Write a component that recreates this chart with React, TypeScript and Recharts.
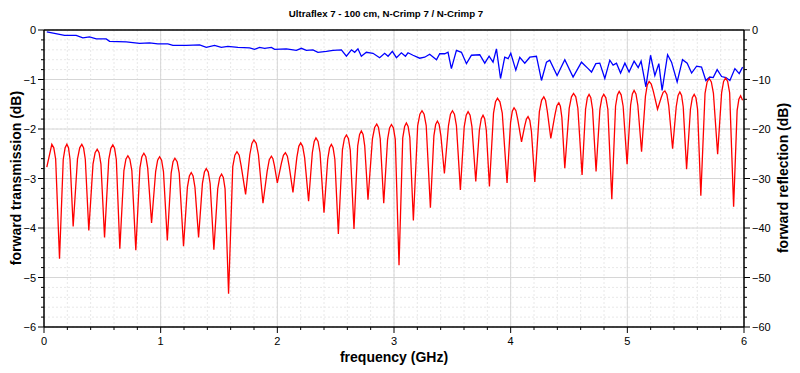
import React from 'react';
import { LineChart, Line, XAxis, YAxis, CartesianGrid, ReferenceLine } from 'recharts';

const FONT = '"Liberation Sans", Arial, Helvetica, sans-serif';

const chartTitle = 'Ultraflex 7 - 100 cm, N-Crimp 7 / N-Crimp 7';
const xTitle = 'frequency (GHz)';
const leftTitle = 'forward transmission (dB)';
const rightTitle = 'forward reflection (dB)';

// major tick values (labelled)
const xMajor = [0, 1, 2, 3, 4, 5, 6];
const leftMajor = [0, -1, -2, -3, -4, -5, -6];
const rightMajor = [0, -10, -20, -30, -40, -50, -60];
// minor tick values (every 0.2 GHz / 0.2 dB / 2 dB)
const xTicks = Array.from({ length: 31 }, (_, i) => Math.round(i * 2) / 10);
const leftTicks = Array.from({ length: 31 }, (_, i) => -Math.round(i * 2) / 10);
const rightTicks = Array.from({ length: 31 }, (_, i) => -i * 2);

// forward transmission (blue, left axis)
const transFreq = [
  0.024, 0.133, 0.176, 0.276, 0.333, 0.390, 0.448, 0.533, 0.562, 0.705,
  0.819, 0.905, 0.976, 1.062, 1.105, 1.220, 1.334, 1.391, 1.462, 1.520,
  1.576, 1.662, 1.762, 1.805, 1.848, 1.891, 1.949, 1.977, 2.077, 2.163,
  2.206, 2.249, 2.305, 2.348, 2.420, 2.477, 2.549, 2.592, 2.635, 2.663,
  2.691, 2.720, 2.763, 2.820, 2.877, 2.920, 2.949, 2.986, 3.021, 3.063,
  3.098, 3.120, 3.163, 3.220, 3.263, 3.306, 3.364, 3.392, 3.435, 3.463,
  3.492, 3.535, 3.578, 3.621, 3.664, 3.735, 3.778, 3.815, 3.849, 3.878,
  3.913, 3.949, 3.978, 4.001, 4.044, 4.078, 4.121, 4.164, 4.221, 4.264,
  4.307, 4.335, 4.398, 4.464, 4.535, 4.607, 4.664, 4.693, 4.730, 4.764,
  4.807, 4.850, 4.878, 4.907, 4.942, 4.979, 5.015, 5.058, 5.093, 5.118,
  5.159, 5.199, 5.236, 5.270, 5.298, 5.345, 5.379, 5.427, 5.473, 5.513,
  5.551, 5.594, 5.636, 5.673, 5.707, 5.736, 5.770, 5.808, 5.845, 5.879,
  5.922, 5.959, 5.988,
];
const transDb = [
  -0.04, -0.09, -0.11, -0.11, -0.16, -0.14, -0.18, -0.18, -0.23, -0.24,
  -0.27, -0.26, -0.28, -0.28, -0.31, -0.31, -0.30, -0.35, -0.31, -0.35,
  -0.33, -0.35, -0.36, -0.39, -0.35, -0.37, -0.35, -0.39, -0.38, -0.41,
  -0.37, -0.41, -0.40, -0.45, -0.43, -0.41, -0.40, -0.53, -0.40, -0.45,
  -0.38, -0.53, -0.45, -0.47, -0.56, -0.47, -0.53, -0.43, -0.56, -0.46,
  -0.53, -0.46, -0.51, -0.57, -0.55, -0.49, -0.60, -0.48, -0.48, -0.45,
  -0.78, -0.41, -0.45, -0.68, -0.51, -0.50, -0.67, -0.53, -0.65, -0.38,
  -0.98, -0.55, -0.58, -0.47, -0.81, -0.55, -0.67, -0.55, -0.53, -1.02,
  -0.65, -0.61, -0.92, -0.60, -0.95, -0.65, -0.78, -0.85, -0.68, -0.67,
  -0.98, -0.61, -0.71, -0.67, -0.87, -0.67, -0.85, -0.63, -0.76, -0.63,
  -1.15, -0.51, -0.92, -0.68, -1.22, -0.50, -0.65, -1.05, -0.60, -0.67,
  -0.87, -0.73, -0.75, -1.02, -0.95, -0.96, -0.80, -0.94, -0.96, -1.02,
  -0.78, -0.88, -0.75,
];

// forward reflection (red, right axis); per ripple: shoulder, near-top, peak, near-top, shoulder, dip
const reflFreq = [
  0.024, 0.067, 0.084, 0.100, 0.133,
  0.165, 0.181, 0.196, 0.210, 0.223, 0.250,
  0.287, 0.306, 0.324, 0.339, 0.354, 0.384,
  0.420, 0.438, 0.456, 0.472, 0.488, 0.519,
  0.555, 0.573, 0.590, 0.605, 0.620, 0.650,
  0.685, 0.702, 0.719, 0.736, 0.753, 0.787,
  0.822, 0.839, 0.856, 0.873, 0.889, 0.922,
  0.957, 0.974, 0.991, 1.008, 1.024, 1.057,
  1.090, 1.106, 1.122, 1.141, 1.159, 1.196,
  1.229, 1.246, 1.262, 1.278, 1.294, 1.325,
  1.358, 1.375, 1.391, 1.408, 1.424, 1.456,
  1.489, 1.506, 1.522, 1.537, 1.552, 1.582,
  1.618, 1.636, 1.654, 1.673, 1.691, 1.728,
  1.764, 1.782, 1.799, 1.819, 1.838, 1.877,
  1.913, 1.931, 1.949, 1.962, 1.975, 2.000,
  2.035, 2.052, 2.069, 2.086, 2.102, 2.134,
  2.167, 2.184, 2.200, 2.217, 2.234, 2.268,
  2.300, 2.316, 2.331, 2.349, 2.366, 2.400,
  2.432, 2.448, 2.463, 2.478, 2.493, 2.523,
  2.558, 2.575, 2.592, 2.609, 2.625, 2.657,
  2.689, 2.705, 2.720, 2.735, 2.749, 2.777,
  2.815, 2.834, 2.852, 2.867, 2.882, 2.912,
  2.945, 2.962, 2.978, 2.995, 3.011, 3.043,
  3.075, 3.091, 3.106, 3.121, 3.136, 3.166,
  3.203, 3.222, 3.240, 3.258, 3.276, 3.312,
  3.342, 3.357, 3.372, 3.387, 3.402, 3.432,
  3.467, 3.484, 3.501, 3.518, 3.535, 3.569,
  3.602, 3.619, 3.635, 3.652, 3.668, 3.701,
  3.732, 3.748, 3.763, 3.777, 3.791, 3.818,
  3.853, 3.870, 3.887, 3.908, 3.928, 3.969,
  3.999, 4.014, 4.029, 4.045, 4.061, 4.093,
  4.121, 4.135, 4.149, 4.164, 4.178, 4.207,
  4.246, 4.265, 4.284, 4.299, 4.314, 4.344,
  4.379, 4.396, 4.413, 4.426, 4.439, 4.464,
  4.502, 4.521, 4.539, 4.558, 4.576, 4.612,
  4.642, 4.657, 4.672, 4.687, 4.702, 4.732,
  4.765, 4.782, 4.798, 4.816, 4.833, 4.867,
  4.899, 4.915, 4.930, 4.947, 4.964, 4.998,
  5.028, 5.043, 5.058, 5.074, 5.090, 5.122,
  5.155, 5.171, 5.187, 5.205, 5.223, 5.259,
  5.291, 5.307, 5.322, 5.339, 5.355, 5.388,
  5.419, 5.435, 5.450, 5.465, 5.479, 5.508,
  5.541, 5.557, 5.573, 5.588, 5.602, 5.630,
  5.666, 5.684, 5.702, 5.720, 5.738, 5.774,
  5.808, 5.825, 5.842, 5.860, 5.877, 5.911,
  5.941, 5.956, 5.971, 5.988,
];
const reflDb = [
  -27.7, -23.1, -23.8, -26.1, -46.2,
  -26.1, -23.8, -23.1, -23.8, -26.1, -39.7,
  -26.1, -23.8, -23.1, -23.8, -26.1, -40.5,
  -27.1, -24.8, -24.1, -24.8, -27.1, -41.9,
  -26.2, -23.9, -23.2, -23.9, -26.2, -44.2,
  -28.4, -26.1, -25.4, -26.1, -28.4, -44.5,
  -27.9, -25.6, -24.9, -25.6, -27.9, -39.0,
  -28.6, -26.3, -25.6, -26.3, -28.6, -42.5,
  -28.9, -26.6, -25.9, -26.6, -28.9, -43.7,
  -31.8, -29.5, -28.8, -29.5, -31.8, -41.9,
  -31.0, -28.7, -28.0, -28.7, -31.0, -44.4,
  -32.1, -29.8, -29.1, -29.8, -32.1, -53.3,
  -27.6, -25.3, -24.6, -25.3, -27.6, -33.2,
  -25.2, -22.9, -22.2, -22.9, -25.2, -35.0,
  -28.5, -26.2, -25.5, -26.0, -27.4, -30.9,
  -26.9, -25.3, -24.8, -25.5, -27.6, -32.8,
  -25.8, -23.5, -22.8, -23.5, -25.8, -34.6,
  -24.8, -22.5, -21.8, -22.5, -24.8, -36.9,
  -26.1, -23.8, -23.1, -23.8, -26.1, -41.2,
  -24.2, -21.9, -21.2, -21.9, -24.2, -40.2,
  -23.4, -21.1, -20.4, -21.1, -23.4, -34.3,
  -22.0, -19.7, -19.0, -19.7, -22.0, -35.0,
  -22.1, -19.8, -19.1, -19.8, -22.1, -47.5,
  -21.8, -19.5, -18.8, -19.5, -21.8, -38.5,
  -19.3, -17.0, -16.3, -17.0, -19.3, -35.9,
  -21.4, -19.1, -18.4, -19.1, -21.4, -29.0,
  -19.3, -17.0, -16.3, -17.0, -19.3, -32.3,
  -19.5, -17.2, -16.5, -17.2, -19.5, -30.6,
  -20.2, -17.9, -17.2, -17.9, -20.2, -31.6,
  -16.8, -14.5, -13.8, -14.5, -16.8, -30.9,
  -18.7, -16.4, -15.7, -16.3, -18.1, -22.6,
  -19.3, -18.0, -17.5, -18.2, -20.5, -30.7,
  -16.5, -14.2, -13.5, -14.2, -16.4, -21.9,
  -17.2, -15.3, -14.7, -15.4, -17.7, -27.9,
  -15.8, -13.5, -12.8, -13.5, -15.8, -29.3,
  -16.0, -13.7, -13.0, -13.7, -16.0, -28.6,
  -16.0, -13.7, -13.0, -13.7, -16.0, -34.2,
  -15.4, -13.1, -12.4, -13.1, -15.4, -27.1,
  -15.2, -12.9, -12.2, -12.9, -15.2, -24.6,
  -13.4, -11.1, -10.4, -10.9, -12.4, -16.0,
  -13.6, -12.6, -12.3, -13.0, -15.3, -24.0,
  -15.5, -13.2, -12.5, -13.2, -15.5, -28.1,
  -16.0, -13.7, -13.0, -13.7, -16.0, -33.5,
  -12.8, -10.5, -9.8, -10.5, -12.8, -25.1,
  -12.7, -10.4, -9.7, -10.4, -12.7, -35.7,
  -16.3, -14.0, -13.3, -14.2,
];

const transData = transFreq.map((f, i) => ({ f, v: transDb[i] }));
const reflData = reflFreq.map((f, i) => ({ f, v: reflDb[i] }));

const isMajor = (v: number, list: number[]) => list.some((m) => Math.abs(m - v) < 1e-6);
const fmt = (v: number) => (v < 0 ? '\u2212' + Math.abs(Math.round(v * 10) / 10) : String(Math.round(v * 10) / 10));

const BottomTick = (props: any) => {
  const { x, y, payload } = props;
  const v = payload.value;
  const major = isMajor(v, xMajor);
  return (
    <g>
      <line x1={x} x2={x} y1={y} y2={y + (major ? 6 : 3)} stroke="#000" strokeWidth={1} />
      {major && (
        <text x={x} y={y + 18} textAnchor="middle" fontSize={11} fontFamily={FONT} fill="#000">
          {fmt(v)}
        </text>
      )}
    </g>
  );
};

const LeftTick = (props: any) => {
  const { x, y, payload } = props;
  const v = payload.value;
  const major = isMajor(v, leftMajor);
  return (
    <g>
      <line x1={x} x2={x - (major ? 6 : 3)} y1={y} y2={y} stroke="#000" strokeWidth={1} />
      {major && (
        <text x={x - 8} y={y + 4} textAnchor="end" fontSize={11} fontFamily={FONT} fill="#000">
          {fmt(v)}
        </text>
      )}
    </g>
  );
};

const RightTick = (props: any) => {
  const { x, y, payload } = props;
  const v = payload.value;
  const major = isMajor(v, rightMajor);
  return (
    <g>
      <line x1={x} x2={x + (major ? 6 : 3)} y1={y} y2={y} stroke="#000" strokeWidth={1} />
      {major && (
        <text x={x + 8} y={y + 4} textAnchor="start" fontSize={11} fontFamily={FONT} fill="#000">
          {fmt(v)}
        </text>
      )}
    </g>
  );
};

const XLabel = () => (
  <text x={394} y={362} textAnchor="middle" fontSize={14} fontWeight="bold" fontFamily={FONT} fill="#000">
    {xTitle}
  </text>
);
const LeftLabel = () => (
  <text
    x={16}
    y={178}
    textAnchor="middle"
    dominantBaseline="central"
    transform="rotate(-90 16 178)"
    fontSize={14}
    fontWeight="bold"
    fontFamily={FONT}
    fill="#000"
  >
    {leftTitle}
  </text>
);
const RightLabel = () => (
  <text
    x={783}
    y={178}
    textAnchor="middle"
    dominantBaseline="central"
    transform="rotate(-90 783 178)"
    fontSize={14}
    fontWeight="bold"
    fontFamily={FONT}
    fill="#000"
  >
    {rightTitle}
  </text>
);

export default function App() {
  return (
    <div style={{ position: 'relative', width: 800, height: 373, background: '#fff' }}>
      <style>{'body{margin:0;background:#fff}'}</style>
      <div
        style={{
          position: 'absolute',
          left: 0,
          top: 8,
          width: 772,
          textAlign: 'center',
          fontFamily: FONT,
          fontWeight: 'bold',
          fontSize: 9.7,
          lineHeight: '12px',
          color: '#000',
          zIndex: 2,
        }}
      >
        {chartTitle}
      </div>
      <LineChart width={800} height={373} margin={{ top: 30, right: 0, bottom: 0, left: 0 }}>
        <CartesianGrid yAxisId="left" stroke="#e8e8e8" strokeDasharray="2 2" />
        <XAxis
          type="number"
          dataKey="f"
          domain={[0, 6]}
          ticks={xTicks}
          interval={0}
          height={46}
          tickSize={0}
          tickMargin={0}
          tickLine={false}
          tick={<BottomTick />}
          axisLine={{ stroke: '#000', strokeWidth: 1.5 }}
          label={<XLabel />}
          allowDataOverflow
        />
        <YAxis
          yAxisId="left"
          type="number"
          domain={[-6, 0]}
          ticks={leftTicks}
          interval={0}
          width={44}
          tickSize={0}
          tickMargin={0}
          tickLine={false}
          tick={<LeftTick />}
          axisLine={{ stroke: '#000', strokeWidth: 1.5 }}
          label={<LeftLabel />}
          allowDataOverflow
        />
        <YAxis
          yAxisId="right"
          orientation="right"
          type="number"
          domain={[-60, 0]}
          ticks={rightTicks}
          interval={0}
          width={56}
          tickSize={0}
          tickMargin={0}
          tickLine={false}
          tick={<RightTick />}
          axisLine={{ stroke: '#000', strokeWidth: 1.5 }}
          label={<RightLabel />}
          allowDataOverflow
        />
        {[1, 2, 3, 4, 5].map((v) => (
          <ReferenceLine key={'vx' + v} yAxisId="left" x={v} stroke="#d6d6d6" strokeWidth={1} />
        ))}
        {[-1, -2, -3, -4, -5].map((v) => (
          <ReferenceLine key={'hy' + v} yAxisId="left" y={v} stroke="#d6d6d6" strokeWidth={1} />
        ))}
        <ReferenceLine yAxisId="left" y={0} stroke="#000" strokeWidth={1.5} />
        <Line
          yAxisId="left"
          data={transData}
          dataKey="v"
          type="linear"
          stroke="#0000ff"
          strokeWidth={1.3}
          dot={false}
          isAnimationActive={false}
        />
        <Line
          yAxisId="right"
          data={reflData}
          dataKey="v"
          type="linear"
          stroke="#ff0000"
          strokeWidth={1.3}
          dot={false}
          isAnimationActive={false}
        />
      </LineChart>
    </div>
  );
}
